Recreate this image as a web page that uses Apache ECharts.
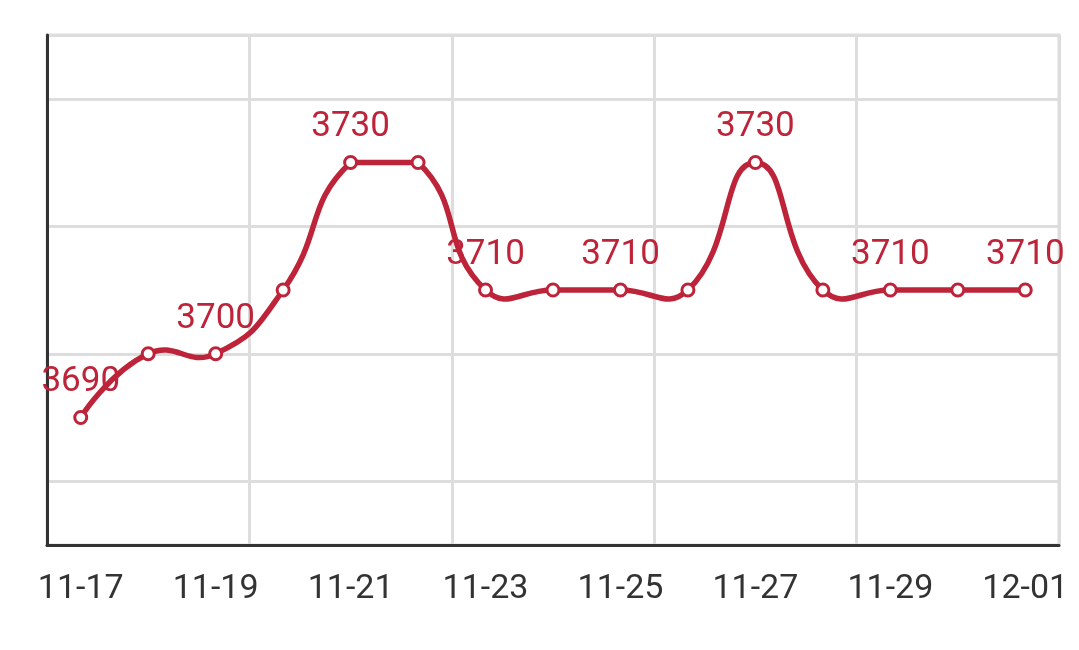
<!DOCTYPE html>
<html>
<head>
<meta charset="utf-8">
<script src="https://cdn.jsdelivr.net/npm/echarts@6/dist/echarts.min.js"></script>
<style>
html,body{margin:0;padding:0;background:#fff;}
#c{width:1079px;height:650px;}
</style>
</head>
<body>
<div id="c"></div>
<script>
var categories = ['11-17','11-18','11-19','11-20','11-21','11-22','11-23','11-24','11-25','11-26','11-27','11-28','11-29','11-30','12-01'];
var prices = [3690,3700,3700,3710,3730,3730,3710,3710,3710,3710,3730,3710,3710,3710,3710];
var labelledIndices = [0,2,4,6,8,10,12,14];

var red = '#be2439';
var gridColor = '#dddddd';
var smoothness = 0.5;

// Smoothed path (bezier with control points clamped to the points' bounding box)
function renderCurve(params, api) {
  if (params.dataIndex !== 0) return null;
  var pts = prices.map(function(v, i){ return api.coord([i, v]); });
  var n = pts.length;
  var minX = Infinity, minY = Infinity, maxX = -Infinity, maxY = -Infinity;
  pts.forEach(function(p){
    minX = Math.min(minX, p[0]); maxX = Math.max(maxX, p[0]);
    minY = Math.min(minY, p[1]); maxY = Math.max(maxY, p[1]);
  });
  function clamp(c){
    return [Math.min(Math.max(c[0], minX), maxX), Math.min(Math.max(c[1], minY), maxY)];
  }
  function dist(a, b){ return Math.sqrt((a[0]-b[0])*(a[0]-b[0]) + (a[1]-b[1])*(a[1]-b[1])); }
  var d = 'M' + pts[0][0] + ' ' + pts[0][1];
  var cp0 = [pts[0][0], pts[0][1]];
  for (var i = 1; i < n; i++) {
    var p = pts[i], prev = pts[i-1], next = pts[i+1];
    var cp1, nextCp0 = null;
    if (!next) {
      cp1 = [p[0], p[1]];
    } else {
      var v = [next[0] - prev[0], next[1] - prev[1]];
      var lp = dist(p, prev), ln = dist(p, next);
      var r = ln / (ln + lp);
      cp1 = [p[0] - v[0] * smoothness * (1 - r), p[1] - v[1] * smoothness * (1 - r)];
      nextCp0 = [p[0] + v[0] * smoothness * r, p[1] + v[1] * smoothness * r];
    }
    var a = clamp(cp0), b = clamp(cp1);
    d += ' C' + a[0] + ' ' + a[1] + ' ' + b[0] + ' ' + b[1] + ' ' + p[0] + ' ' + p[1];
    if (nextCp0) cp0 = nextCp0;
  }
  return {
    type: 'path',
    shape: { pathData: d },
    style: { fill: 'none', stroke: red, lineWidth: 5.5, lineJoin: 'round', lineCap: 'round' }
  };
}

var chart = echarts.init(document.getElementById('c'), null, {renderer:'canvas'});
chart.setOption({
  animation:false,
  textStyle:{fontFamily:'Roboto'},
  grid:{left:47,right:20,top:35,bottom:105,show:true,borderColor:gridColor,borderWidth:3,containLabel:false},
  xAxis:{
    type:'category',
    data:categories,
    boundaryGap:true,
    axisLine:{show:true,lineStyle:{color:'#333',width:3}},
    axisTick:{show:false},
    axisLabel:{interval:1,fontSize:34,color:'#333',margin:27,fontFamily:'Roboto'},
    splitLine:{show:true,interval:2,lineStyle:{color:gridColor,width:3}}
  },
  yAxis:{
    type:'value',
    min:3670,max:3750,interval:10,
    axisLine:{show:true,lineStyle:{color:'#333',width:3}},
    axisTick:{show:false},
    axisLabel:{show:false},
    splitLine:{show:true,showMinLine:true,showMaxLine:true,lineStyle:{width:3,color:['rgba(0,0,0,0)',gridColor,'rgba(0,0,0,0)',gridColor,'rgba(0,0,0,0)',gridColor,'rgba(0,0,0,0)',gridColor,gridColor]}}
  },
  series:[{
    type:'custom',
    renderItem:renderCurve,
    data:[[0, prices[0]]],
    clip:false,
    z:2,
    silent:true
  },{
    type:'line',
    data:prices,
    smooth:false,
    symbol:'circle',
    symbolSize:12,
    z:3,
    lineStyle:{opacity:0,width:0},
    itemStyle:{color:'#fff',borderColor:red,borderWidth:3},
    label:{
      show:true,position:'top',distance:10,fontSize:35,color:red,fontFamily:'Roboto',
      formatter:function(p){return labelledIndices.indexOf(p.dataIndex)>=0 ? String(p.value) : '';}
    }
  }]
});
</script>
</body>
</html>
